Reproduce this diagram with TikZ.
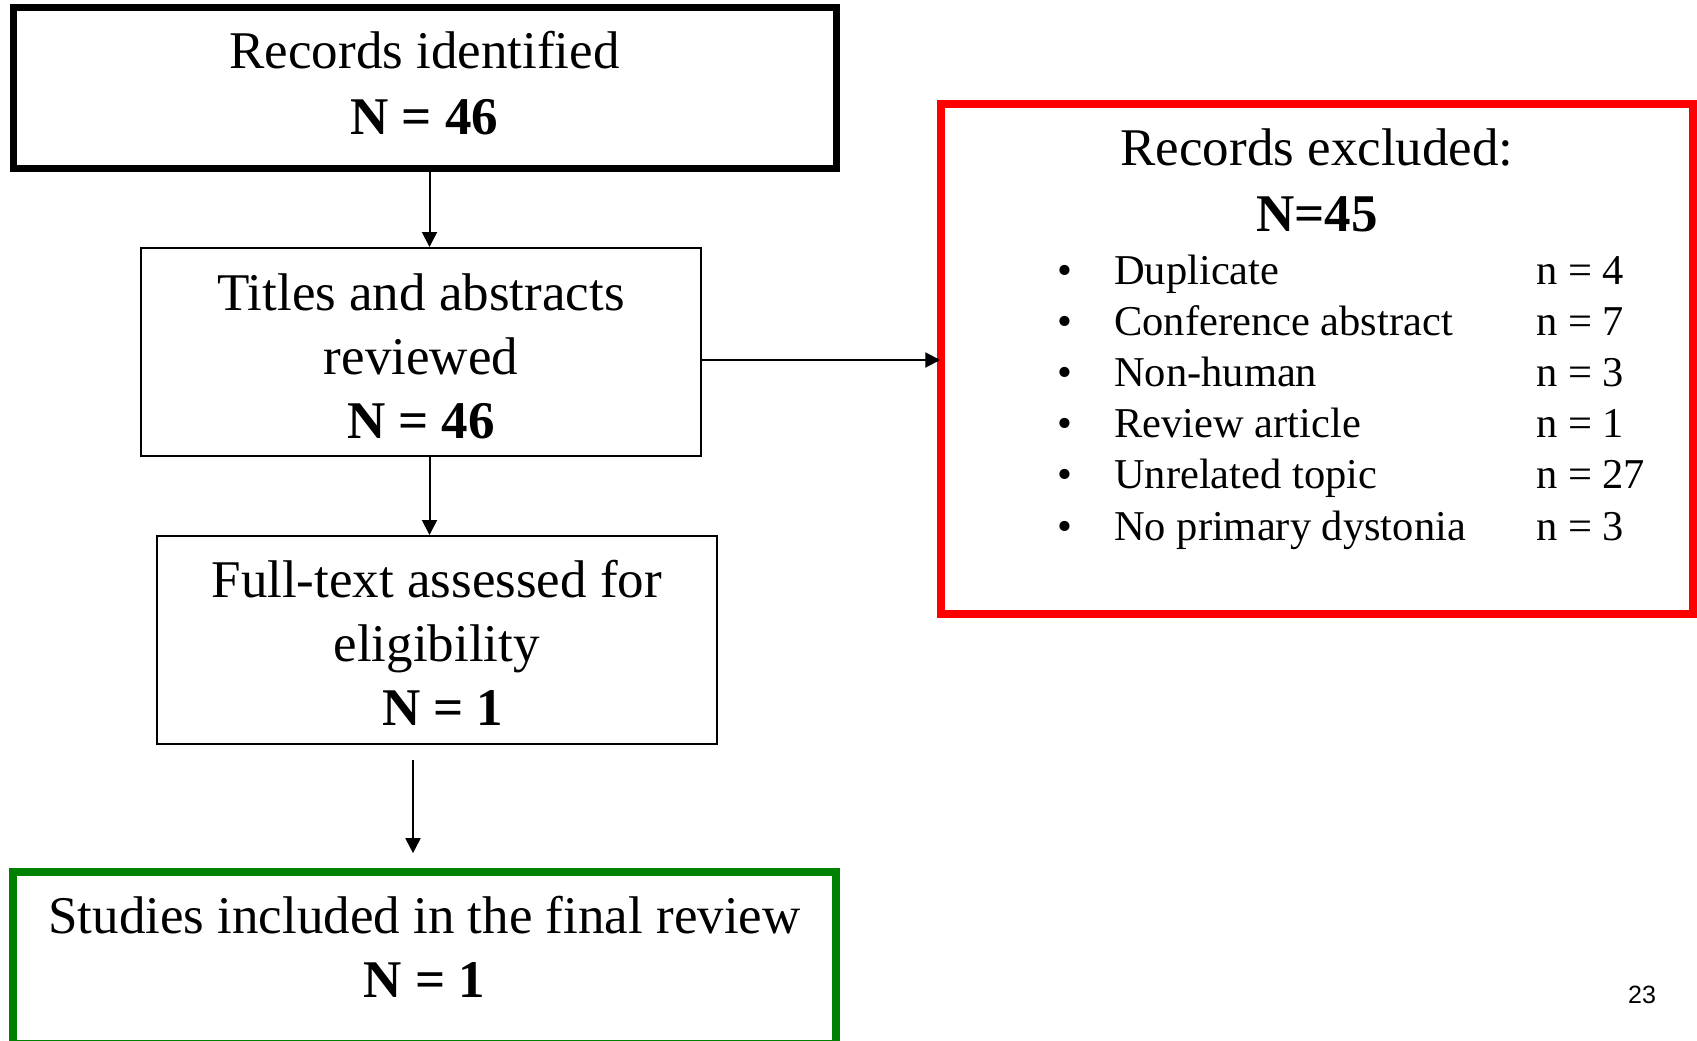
\documentclass[tikz,border=0pt]{standalone}
\usepackage{fontspec}
\setmainfont{Liberation Serif}
\newfontfamily\pgnumfont{Liberation Sans}
\usetikzlibrary{arrows.meta,calc}
\definecolor{exred}{RGB}{255,0,0}
\definecolor{incgreen}{RGB}{0,128,0}
\newcommand\bt[3]{\rule{0pt}{#1pt}#3\rule[-#2pt]{0pt}{#2pt}}
\begin{document}
\begin{tikzpicture}[x=1pt,y=-1pt,
  bigtxt/.style={font=\fontsize{53}{64}\selectfont, align=center, inner sep=0pt},
  flowbox/.style={draw, line width=2pt, rectangle, bigtxt},
  arr/.style={line width=2pt, -{Triangle[length=15pt,width=15pt]}},
  listtxt/.style={font=\fontsize{42.5}{51}\selectfont, inner sep=0pt}
]
\useasboundingbox (0,0) rectangle (1697,1041);

\node[flowbox, line width=7pt, minimum width=823pt, minimum height=160pt,
      font=\fontsize{53}{66}\selectfont] (rec) at (424.5,88)
  {\bt{40}{13}{Records identified\\\textbf{N = 46}}};
\node[flowbox, minimum width=560pt, minimum height=208pt] (scr) at (421,352)
  {\bt{50}{4.8}{Titles and abstracts\\reviewed\\\textbf{N = 46}}};
\node[flowbox, minimum width=559.5pt, minimum height=208pt] (ft) at (436.75,640)
  {\bt{48}{6}{Full-text assessed for\\eligibility\\\hspace*{12pt}\textbf{N = 1}}};
\node[flowbox, draw=incgreen, line width=7.7pt, minimum width=823pt, minimum height=172pt] (inc) at (424.4,958)
  {\bt{40}{25.4}{Studies included in the final review\\\textbf{N = 1}}};
\node[flowbox, draw=exred, line width=7.5pt, minimum width=752pt, minimum height=510pt,
      font=\fontsize{53}{66}\selectfont] (excl) at (1317,359)
  {\bt{40}{362}{Records excluded:\\\textbf{N=45}}};

\foreach \i/\lbl/\cnt in {1/Duplicate/4, 2/Conference abstract/7, 3/Non-human/3,
    4/Review article/1, 5/Unrelated topic/27, 6/No primary dystonia/3}{
  \pgfmathsetmacro\yy{284+(\i-1)*51.2}
  \node[listtxt, anchor=base] (bul\i) at (1065,\yy) {\textbullet};
  \node[listtxt, anchor=base west] (item\i) at (1114,\yy) {\lbl};
  \node[listtxt, anchor=base west] (cnt\i) at (1536,\yy) {n = \cnt};
}

\coordinate (vx) at (429.5,0);
\draw[arr] (vx |- rec.south) -- (vx |- scr.north);
\draw[arr] (vx |- scr.south) -- (vx |- ft.north);
\coordinate (a3s) at (413,760);
\draw[arr] (a3s) -- ($(a3s |- inc.north)+(0,-15)$);
\coordinate (hy) at (0,360);
\draw[arr] (scr.east |- hy) -- ($(excl.west |- hy)+(3,0)$);

\node[font=\pgnumfont\fontsize{25}{30}\selectfont, inner sep=0pt] (pg) at (1642,995) {23};
\end{tikzpicture}
\end{document}
